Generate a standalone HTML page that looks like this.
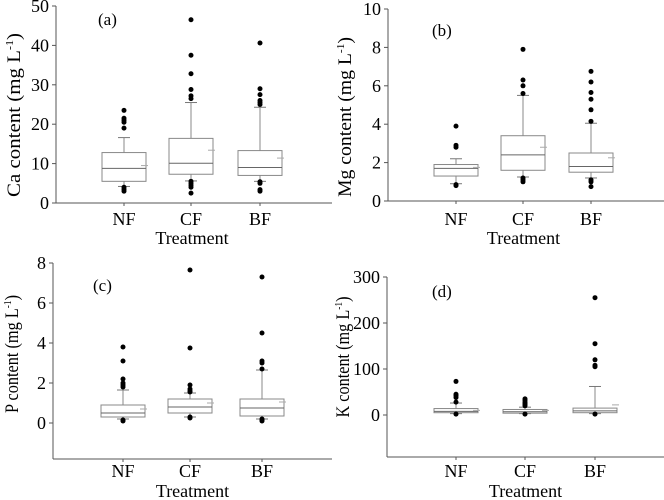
<!DOCTYPE html>
<html><head><meta charset="utf-8"><style>
body{margin:0;background:#fff}
svg{display:block;font-family:"Liberation Serif",serif}
</style></head><body>
<svg id="chart" width="664" height="500" viewBox="0 0 664 500" xmlns="http://www.w3.org/2000/svg"></svg>
<script>
const categories = ["NF","CF","BF"];
// per-panel stats: [q1, median, q3, whiskerLow, whiskerHigh, mean]
const caStats = [[5.5,8.8,12.8,4.2,16.6,9.5],[7.3,10.1,16.4,5.6,25.5,13.4],[7,9,13.3,5.5,24.3,11.4]];
const caOutliers = [[3,3.5,4,19,20.5,21,21.5,23.5],[2.5,4,4.5,5,5.5,26.5,27.2,28.8,32.8,37.5,46.5],[3,3.4,5,5.4,25,25.5,26,27.5,29,40.6]];
const mgStats = [[1.3,1.7,1.9,0.9,2.2,1.75],[1.6,2.4,3.4,1.25,5.5,2.8],[1.5,1.8,2.5,1.2,4.05,2.25]];
const mgOutliers = [[0.8,0.85,2.8,2.9,3.9],[1.0,1.1,1.2,5.6,6.0,6.3,7.9],[0.75,1.0,1.1,4.15,4.75,5.3,5.65,6.2,6.75]];
const pStats = [[0.3,0.5,0.9,0.2,1.65,0.7],[0.5,0.8,1.2,0.3,1.5,1.0],[0.35,0.75,1.2,0.2,2.65,1.05]];
const pOutliers = [[0.1,0.15,1.8,1.9,2.0,2.2,3.1,3.8],[0.25,0.3,1.55,1.6,1.7,1.9,3.75,7.65],[0.1,0.15,0.2,2.7,3.0,3.1,4.5,7.3]];
const kStats = [[5,8,14,3,26,10],[4,7,12,3,17,10],[5,9,15,3,62,22]];
const kOutliers = [[2,28,38,42,45,73],[2,20,23,25,28,32,35],[2,105,108,120,155,255]];
const caTicks = [0,10,20,30,40,50];
const mgTicks = [0,2,4,6,8,10];
const pTicks = [0,2,4,6,8];
const kTicks = [0,100,200,300];

const NS="http://www.w3.org/2000/svg";
const svg=document.getElementById('chart');
function mk(tag,attrs,parent){const e=document.createElementNS(NS,tag);for(const k in attrs)e.setAttribute(k,attrs[k]);(parent||svg).appendChild(e);return e;}

const panels=[
 {id:'a',label:'(a)',title:'Ca',stats:caStats,out:caOutliers,ticks:caTicks,ax:56,axEnd:332,yTop:6,yBot:203,vTop:50,vBot:0,axisBottom:203,cx:[124,191,260],lx:98,ly:25,tickY:225,trY:244,titleX:14,titleY:115,titleLen:164},
 {id:'b',label:'(b)',title:'Mg',stats:mgStats,out:mgOutliers,ticks:mgTicks,ax:388,axEnd:664,yTop:9,yBot:201,vTop:10,vBot:0,axisBottom:201,cx:[456,523,591],lx:432,ly:36,tickY:225,trY:244,titleX:345,titleY:117,titleLen:160},
 {id:'c',label:'(c)',title:'P',stats:pStats,out:pOutliers,ticks:pTicks,ax:53,axEnd:332,yTop:263,yBot:423,vTop:8,vBot:0,axisBottom:459,cx:[123,190,262],lx:93,ly:291,tickY:477,trY:497,titleX:12,titleY:354,titleLen:118},
 {id:'d',label:'(d)',title:'K',stats:kStats,out:kOutliers,ticks:kTicks,ax:387,axEnd:664,yTop:277,yBot:415,vTop:300,vBot:0,axisBottom:457,cx:[456,525,595],lx:432,ly:297,tickY:477,trY:497,titleX:343,titleY:357,titleLen:121}
];

panels.forEach(p=>{
 const g=mk('g',{});
 
 
 const y=v=>p.yBot+(v-p.vBot)*(p.yTop-p.yBot)/(p.vTop-p.vBot);
 const top=Math.min(p.yTop,y(p.ticks[p.ticks.length-1]));
 const yAxis=mk('line',{x1:p.ax,y1:top,x2:p.ax,y2:p.axisBottom,stroke:'#555','stroke-width':1},g);
 
 
 const xAxis=mk('line',{x1:p.ax,y1:p.axisBottom,x2:p.axEnd,y2:p.axisBottom,stroke:'#555','stroke-width':1},g);
 
 
 p.ticks.forEach(t=>{
  mk('line',{x1:p.ax-4,y1:y(t),x2:p.ax,y2:y(t),stroke:'#555'},g);
  const tl=mk('text',{x:p.ax-7,y:y(t)+6,'text-anchor':'end','font-size':18},g);
  tl.textContent=t;
  
  
 });
 categories.forEach((c,i)=>{
  const cx=p.cx[i];
  mk('line',{x1:cx,y1:p.axisBottom,x2:cx,y2:p.axisBottom+3,stroke:'#555'},g);
  const xl=mk('text',{x:cx,y:p.tickY,'text-anchor':'middle','font-size':18},g);
  xl.textContent=c;
  
  
  const [q1,md,q3,wl,wh,mn]=p.stats[i];
  const bg=mk('g',{},g);
  
  
  const hw=22, cap=6;
  mk('line',{x1:cx,y1:y(wh),x2:cx,y2:y(q3),stroke:'#888'},bg);
  mk('line',{x1:cx,y1:y(q1),x2:cx,y2:y(wl),stroke:'#888'},bg);
  mk('line',{x1:cx-cap,y1:y(wh),x2:cx+cap,y2:y(wh),stroke:'#777'},bg);
  mk('line',{x1:cx-cap,y1:y(wl),x2:cx+cap,y2:y(wl),stroke:'#777'},bg);
  mk('rect',{x:cx-hw,y:y(q3),width:2*hw,height:y(q1)-y(q3),fill:'#fff',stroke:'#888'},bg);
  mk('line',{x1:cx-hw,y1:y(md),x2:cx+hw,y2:y(md),stroke:'#666'},bg);
  mk('line',{x1:cx+hw-5,y1:y(mn),x2:cx+hw+2,y2:y(mn),stroke:'#aaa'},bg);
  p.out[i].forEach(v=>{
   const d=mk('circle',{cx:cx,cy:y(v),r:2.5,fill:'#000'},bg);
   
   
  });
 });
 const lab=mk('text',{x:p.lx,y:p.ly,'font-size':17},g);
 lab.textContent=p.label;
 
 
 const tr=mk('text',{x:(p.cx[0]+p.cx[2])/2,y:p.trY,'text-anchor':'middle','font-size':18},g);
 tr.textContent='Treatment';
 
 
 const cy=p.titleY;
 const yt=mk('text',{x:p.titleX,y:cy,'text-anchor':'middle','font-size':19,transform:`rotate(-90 ${p.titleX} ${cy})`,dy:6,textLength:p.titleLen,lengthAdjust:'spacingAndGlyphs'},g);
 yt.innerHTML=p.title+' content (mg L<tspan dy="-7" font-size="11">-1</tspan><tspan dy="7">)</tspan>';
 
 
});
</script>
</body></html>
